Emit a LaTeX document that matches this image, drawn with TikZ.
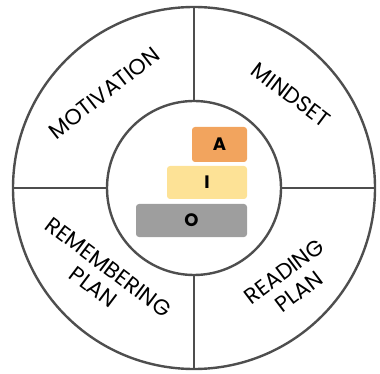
\documentclass[tikz,border=0pt]{standalone}
\usepackage{fontspec}
\setmainfont{Poppins}
\definecolor{ringgray}{RGB}{78,78,78}
\definecolor{aorange}{RGB}{242,164,94}
\definecolor{iyellow}{RGB}{253,226,150}
\definecolor{ogray}{RGB}{158,158,158}
\begin{document}
\begin{tikzpicture}[x=1pt,y=-1pt,
  ring/.style={draw=ringgray, line width=2.4pt},
  lbl/.style={font=\fontsize{22}{25}\selectfont, text=black, align=center, inner sep=0pt},
  bar/.style={rounded corners=3pt, draw=none, inner sep=0pt,
    font=\bfseries\fontsize{18}{20}\selectfont, text=black}]
\useasboundingbox (0,0) rectangle (380,374);
\coordinate (c) at (194,188);
% rings
\draw[ring] (c) circle[radius=181];
\draw[ring] (c) circle[radius=87];
% dividers
\coordinate (top1) at (194,7);   \coordinate (top2) at (194,101);
\coordinate (bot1) at (194,275); \coordinate (bot2) at (194,369);
\coordinate (lef1) at (13,188);  \coordinate (lef2) at (107,188);
\coordinate (rig1) at (281,188); \coordinate (rig2) at (375,188);
\draw[ring] (top1) -- (top2);
\draw[ring] (bot1) -- (bot2);
\draw[ring] (lef1) -- (lef2);
\draw[ring] (rig1) -- (rig2);
% bars
\node (abar) [bar, fill=aorange, minimum width=55pt, minimum height=35pt] at (219.5,144.5) {A};
\node (ibar) [bar, fill=iyellow, minimum width=80pt, minimum height=33pt] at (207,182.5) {I};
\node (obar) [bar, fill=ogray, minimum width=111pt, minimum height=33pt] at (191.5,220.5) {O};
% labels
\node (mot) [lbl, rotate=38] at (104,93) {MOTIVATION};
\node (mind) [lbl, rotate=-37] at (291,95) {MINDSET};
\node (rem) [lbl, rotate=-37] at (101,277) {REMEMBERING\\PLAN};
\node (read) [lbl, rotate=37] at (291.5,281.5) {READING\\PLAN};
\end{tikzpicture}
\end{document}
